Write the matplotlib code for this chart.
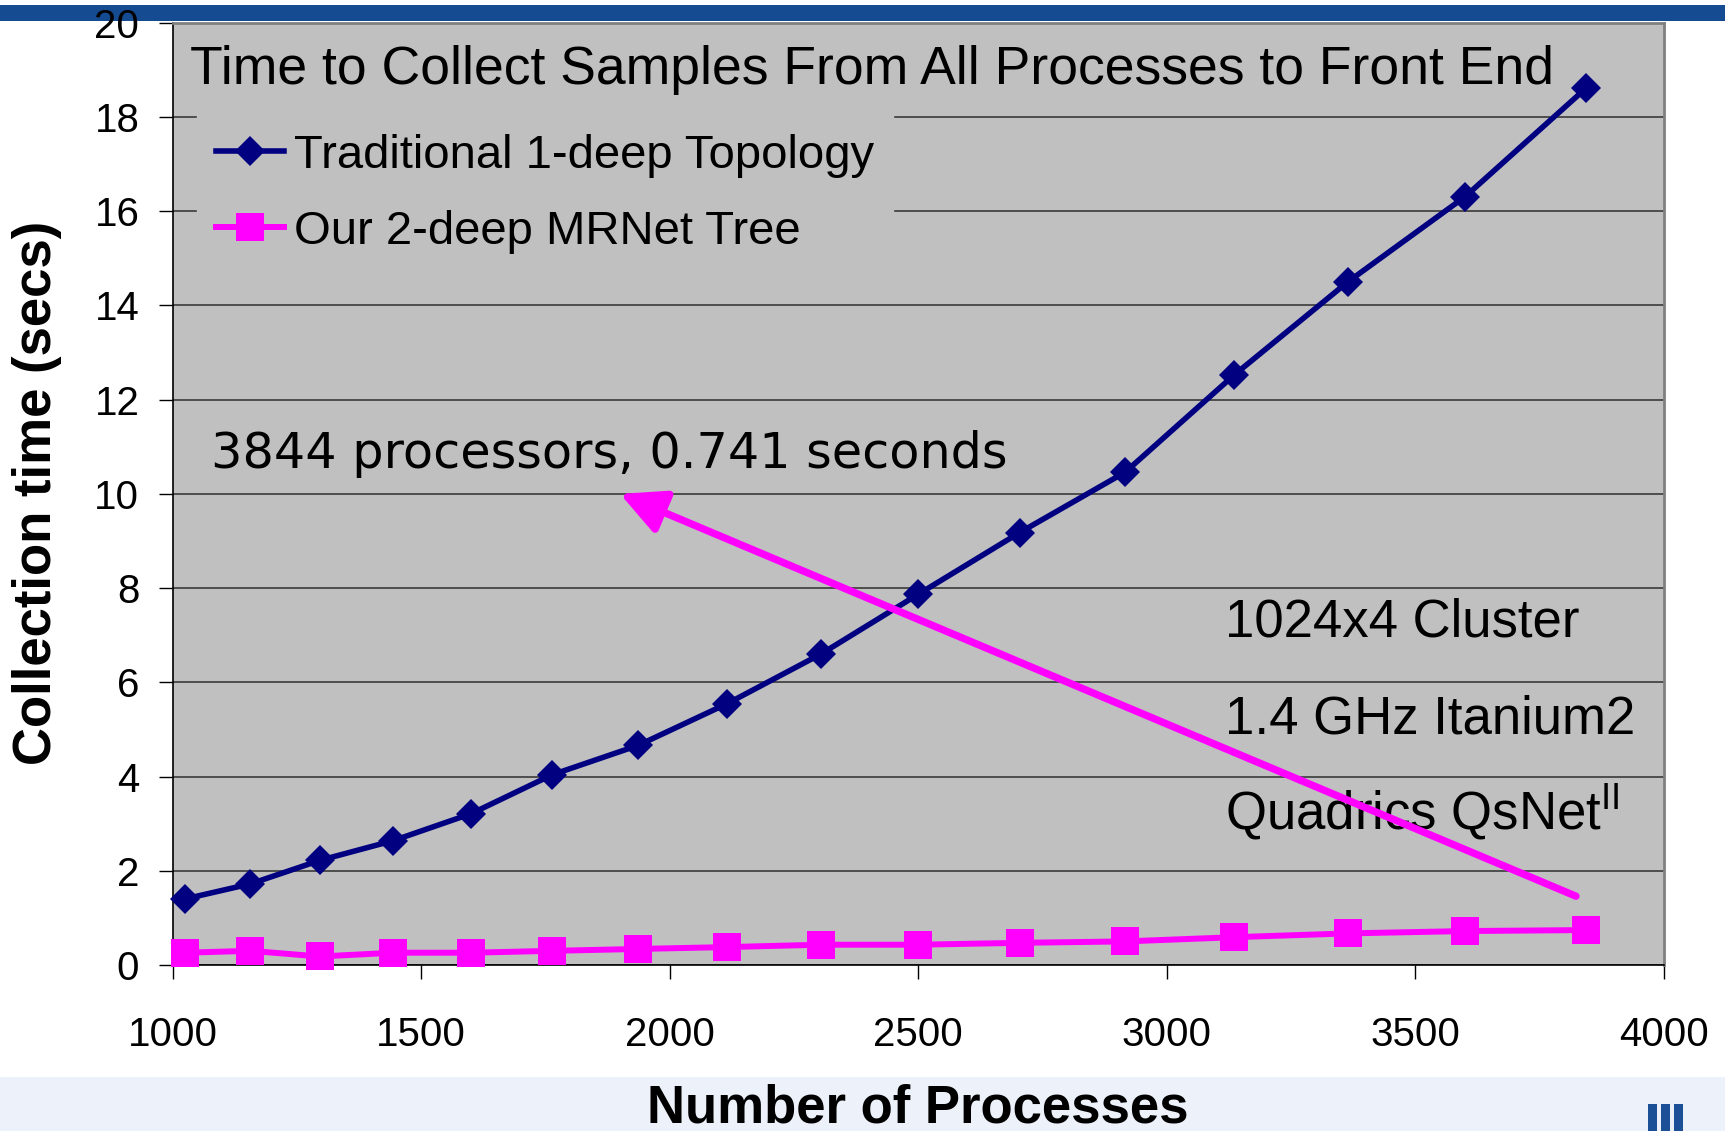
import matplotlib
matplotlib.use("Agg")
import matplotlib.pyplot as plt
from matplotlib.patches import Rectangle

plt.rcParams['font.family'] = ['Liberation Sans', 'DejaVu Sans']

# number of processes (4 per node, square node counts)
procs = [1024, 1156, 1296, 1444, 1600, 1764, 1936, 2116, 2304, 2500,
         2704, 2916, 3136, 3364, 3600, 3844]
# collection time in seconds
traditional = [1.40, 1.72, 2.22, 2.64, 3.21, 4.04, 4.66, 5.55, 6.60, 7.87,
               9.18, 10.46, 12.53, 14.50, 16.31, 18.62]
mrnet = [0.26, 0.30, 0.18, 0.26, 0.26, 0.30, 0.34, 0.38, 0.43, 0.43,
         0.47, 0.50, 0.59, 0.67, 0.72, 0.741]

xticks = [1000, 1500, 2000, 2500, 3000, 3500, 4000]
yticks = list(range(0, 21, 2))

fig = plt.figure(figsize=(17.25, 11.31), dpi=100)
fig.patch.set_facecolor('white')
ax = fig.add_axes([0.1001, 0.1468, 0.8645, 0.8330])
ax.set_facecolor('#C0C0C0')

ax.plot(procs, traditional, color='#000080', lw=4, marker='D', ms=15.5,
        mec='#000080', mew=0, label='Traditional 1-deep Topology', zorder=4, clip_on=False)
ax.plot(procs, mrnet, color='#FF00FF', lw=4.3, marker='s', ms=20.5,
        mec='#FF00FF', mew=0, label='Our 2-deep MRNet Tree', zorder=4, clip_on=False)

ax.set_xlim(1000, 4000)
ax.set_ylim(0, 20)
ax.set_xticks(xticks)
ax.set_yticks(yticks)
ax.grid(axis='y', color='#3a3a3a', lw=1.2, zorder=1)
ax.set_axisbelow(True)
ax.tick_params(axis='x', direction='out', length=10, width=1, labelsize=29, pad=27)
ax.tick_params(axis='y', direction='out', length=10, width=1, labelsize=29, pad=14)
for s in ['top', 'right']:
    ax.spines[s].set_color('#808080')
    ax.spines[s].set_linewidth(2)
for s in ['left', 'bottom']:
    ax.spines[s].set_color('black')
    ax.spines[s].set_linewidth(1.2)

ax.text(1035, 19.0, 'Time to Collect Samples From All Processes to Front End',
        fontsize=38.5, va='center', ha='left')

leg = ax.legend(loc='upper left', bbox_to_anchor=(0.1142, 0.8985),
                bbox_transform=fig.transFigure, borderaxespad=0, fontsize=34,
                frameon=True, fancybox=False, facecolor='#C0C0C0', edgecolor='#C0C0C0',
                framealpha=1, numpoints=1, handlelength=1.45, handletextpad=0.2,
                labelspacing=0.68, borderpad=0.4)

ax.text(3117, 7.26, '1024x4 Cluster', fontsize=38, va='center', ha='left')
ax.text(3117, 5.21, '1.4 GHz Itanium2', fontsize=38, va='center', ha='left')
ax.text(3117, 3.26, r'Quadrics QsNet$^{\mathregular{II}}$', fontsize=38, va='center', ha='left')

ax.text(1078, 10.84, '3844 processors, 0.741 seconds', fontsize=35.5,
        family='DejaVu Sans', va='center', ha='left')
ax.annotate('', xy=(1900, 10.0), xytext=(3823, 1.46),
            arrowprops=dict(arrowstyle='-|>,head_length=0.4,head_width=0.2',
                            mutation_scale=68, color='#FF00FF', lw=5.3,
                            shrinkA=0, shrinkB=0),
            zorder=6)

fig.text(0.5318, 0.0071, 'Number of Processes', fontsize=38, fontweight='bold',
         ha='center', va='baseline', zorder=12)
fig.text(0.0214, 0.564, 'Collection time (secs)', fontsize=38, fontweight='bold',
         rotation=90, ha='center', va='center')

# slide decorations: header bar, footer band, logo
fig.patches.append(Rectangle((0, 0.9814), 1, 0.0142, transform=fig.transFigure,
                             facecolor='#144B91', edgecolor='none', zorder=-1))
fig.patches.append(Rectangle((0, 0), 1, 0.0477, transform=fig.transFigure,
                             facecolor='#EDF1FA', edgecolor='none', zorder=-1))
for bx in [0.9555, 0.9630, 0.9705]:
    fig.patches.append(Rectangle((bx, 0), 0.005, 0.024, transform=fig.transFigure,
                                 facecolor='#1B4F96', edgecolor='none', zorder=11))

fig.savefig('out.png', dpi=100)
